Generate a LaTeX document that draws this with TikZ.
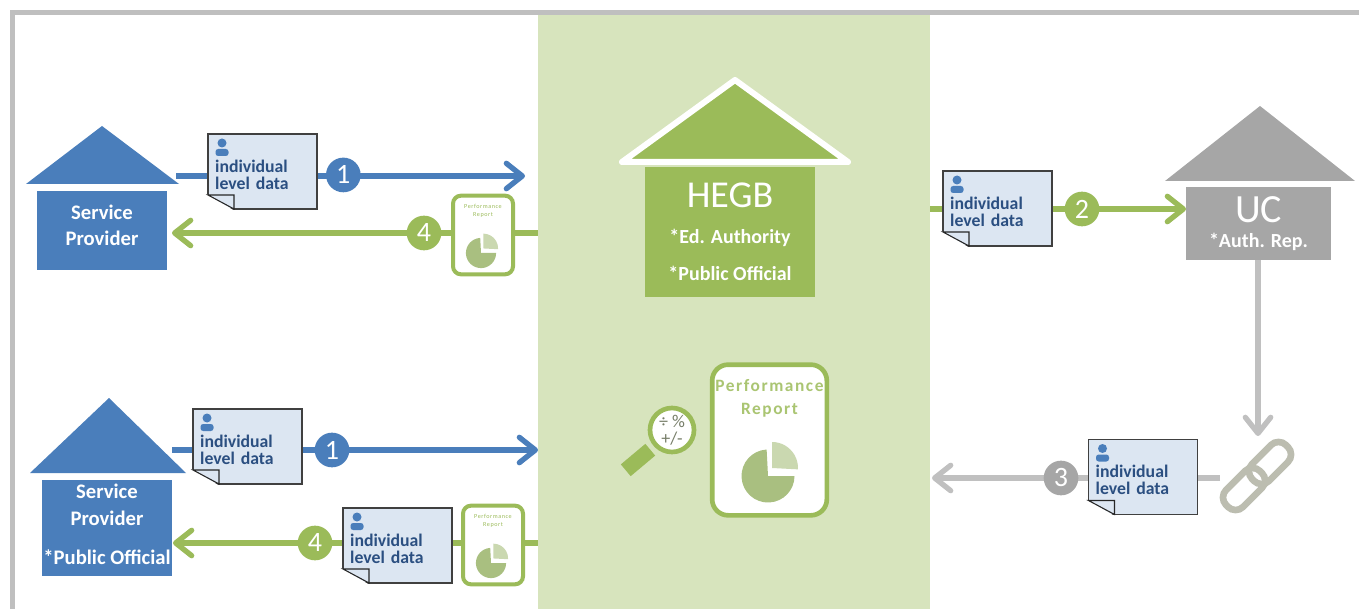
\documentclass[tikz,border=0pt]{standalone}
\usepackage{fontspec}
\setmainfont{Carlito}
\newfontfamily\reportfont[LetterSpace=9]{Carlito}
\usetikzlibrary{positioning}
\usetikzlibrary{arrows.meta}
\usetikzlibrary{backgrounds}
\definecolor{panelGreen}{HTML}{D7E4BD}
\definecolor{flowGreen}{HTML}{9BBB59}
\definecolor{flowBlue}{HTML}{4A7EBB}
\definecolor{flowGrey}{HTML}{C0C0C0}
\definecolor{houseGrey}{HTML}{A6A6A6}
\definecolor{docBlue}{HTML}{DCE6F2}
\definecolor{docText}{HTML}{2B4F81}
\definecolor{pieDark}{HTML}{A9BF80}
\definecolor{pieLight}{HTML}{CAD8B0}
\definecolor{chainGrey}{HTML}{BCBDB0}
\tikzset{%
	% styles of the boxes
	houseBody/.style = {rectangle, inner sep=0pt, outer sep=0pt, text=white, align=center, font=\bfseries},
	docNote/.style = {rectangle, draw=black!75, line width=0.9pt, fill=docBlue, inner sep=0pt, outer sep=0pt,
		minimum width=81.75pt, minimum height=56.25pt, text width=71pt, align=left, text=docText,
		font=\fontsize{13.3pt}{12.75pt}\selectfont\bfseries},
	numBadge/.style = {circle, fill=#1, text=white, minimum size=26pt, inner sep=0pt, outer sep=0pt,
		font=\fontsize{21pt}{21pt}\selectfont},
	reportBox/.style = {rectangle, rounded corners=9pt, draw=flowGreen, line width=3pt, fill=white, inner sep=0pt, outer sep=0pt},
	smallTitle/.style = {inner sep=0pt, align=center, text=flowGreen, font=\fontsize{4.6pt}{6.5pt}\selectfont\reportfont},
	chainLink/.style = {rectangle, rounded corners=8pt, draw=chainGrey, line width=5pt, minimum width=36pt, minimum height=18pt,
		inner sep=0pt, outer sep=0pt, rotate=45},
	flow/.style = {line width=4pt, draw=#1, -{Straight Barb[length=12pt, width=19pt, line width=4pt, round]}},
	plainFlow/.style = {line width=4pt, draw=#1},
	% pie of a report, and the corner fold and person of a note
	pieChart/.pic = {
		\fill[pieDark] (0,0) -- (93:26.5) arc (93:360:26.5) -- cycle;
		\fill[pieLight] (4,8) -- ++(90:26) arc (90:-3:26) -- cycle;
	},
	docMarks/.pic = {
		\fill[white] (-1.5,-60) -- (-1.5,-76.5) -- (26,-76.5) -- cycle;
		\draw[black!85, line width=0.8pt] (0,-61) -- (26,-61) -- (26,-75) -- cycle;
		\fill[flowBlue] (14,-9) circle (4.5);
		\fill[flowBlue, rounded corners=2pt] (7.5,-22) -- (7.5,-15) -- (20.5,-15) -- (20.5,-22) -- cycle;
	}
}
\newcommand{\levelData}{\mbox{}\\individual\\level data\\[-14pt]\mbox{}}
\begin{document}
\begin{tikzpicture}[x=0.75pt, y=0.75pt]
	\useasboundingbox (0,0) rectangle (1359,-609);
	\draw[line width=3.75pt, color=black!25] (12.5,-609) -- (12.5,-13) -- (1359,-13);
	\node (panel) [rectangle, fill=panelGreen, inner sep=0pt, outer sep=0pt, minimum width=294pt, minimum height=445.5pt] at (734,-312) {};

	% first service provider
	\fill[flowBlue] (26,-184) -- (102,-126) -- (179,-184) -- cycle;
	\node (providerOne) [houseBody, fill=flowBlue, minimum width=97.5pt, minimum height=59.25pt, font=\fontsize{15.5pt}{19.5pt}\selectfont\bfseries] at (102,-230.5) {Service\\Provider\\[-12pt]\mbox{}};
	\node (docOne) [docNote] at (262.5,-171.5) {\levelData};
	\pic at (docOne.north west) {docMarks};
	\node (badgeOne) [numBadge=flowBlue, right=6.75pt of docOne, yshift=-2.6pt] {1};
	\coordinate (outOne) at (176,-176);
	\coordinate (inOne) at (525,-176);
	\node (smallReportOne) [reportBox, minimum width=45pt, minimum height=59pt, rounded corners=6pt] at (483,-235) {};
	\node (smallTitleOne) [smallTitle, below=6pt of smallReportOne.north] {Performance\\Report};
	\pic[scale=0.57] at (481,-253) {pieChart};
	\node (badgeFourTop) [numBadge=flowGreen] at (424,-233) {4};
	\coordinate (backOne) at (172,-233);

	% second service provider
	\fill[flowBlue] (30,-473) -- (109,-398) -- (186,-473) -- cycle;
	\node (providerTwo) [houseBody, fill=flowBlue, minimum width=97.5pt, minimum height=72pt, font=\fontsize{15.5pt}{20pt}\selectfont\bfseries] at (107,-528) {Service\\Provider\\[9.5pt]*Public Official\\[-15pt]\mbox{}};
	\node (docTwo) [docNote] at (247.5,-446.5) {\levelData};
	\pic at (docTwo.north west) {docMarks};
	\node (badgeOneLow) [numBadge=flowBlue] at (332,-450) {1};
	\coordinate (outTwo) at (172,-450);
	\coordinate (inTwo) at (538,-450);
	\node (smallReportTwo) [reportBox, minimum width=45pt, minimum height=59pt, rounded corners=6pt] at (493,-545) {};
	\node (smallTitleTwo) [smallTitle, below=6pt of smallReportTwo.north] {Performance\\Report};
	\pic[scale=0.57] at (491,-563) {pieChart};
	\node (docThree) [docNote] at (397.5,-545.5) {\levelData};
	\pic at (docThree.north west) {docMarks};
	\node (badgeFourLow) [numBadge=flowGreen] at (315,-543) {4};
	\coordinate (backTwo) at (173,-543);

	% HEGB
	\filldraw[fill=flowGreen, draw=white, line width=4.5pt, line join=round] (622,-162) -- (735,-80) -- (848,-162) -- cycle;
	\node (hegb) [houseBody, fill=flowGreen, minimum width=127.5pt, minimum height=97.5pt] at (730,-232) {{\fontsize{28.5pt}{28.5pt}\selectfont\mdseries HEGB}\\[15pt]{\fontsize{15pt}{15pt}\selectfont *Ed. Authority}\\[14pt]{\fontsize{15pt}{15pt}\selectfont *Public Official}};

	% report and magnifier
	\node (perfReport) [reportBox, line width=3.5pt, rounded corners=12pt, minimum width=86pt, minimum height=113pt] at (769.5,-440) {};
	\node (perfTitle) [inner sep=0pt, align=center, text=flowGreen!85!white, below=11pt of perfReport.north, font=\fontsize{13pt}{17.5pt}\selectfont\bfseries\reportfont] {Performance\\Report};
	\pic at (768,-476) {pieChart};
	\node (lens) [circle, draw=flowGreen, line width=3.5pt, fill=white, minimum size=33pt, inner sep=0pt, align=center, text=black!45!panelGreen, font=\fontsize{13.5pt}{13pt}\selectfont] at (672,-430) {÷ \%\\+/-};
	\node (lensHandle) [rectangle, fill=flowGreen, minimum width=24pt, minimum height=11.5pt, inner sep=0pt, rotate=40] at (638,-460) {};

	% UC side
	\fill[houseGrey] (1165,-181) -- (1260,-106) -- (1355,-181) -- cycle;
	\node (uc) [houseBody, fill=houseGrey, minimum width=108.75pt, minimum height=54.75pt, font=\normalfont] at (1258.5,-223.5) {{\fontsize{30pt}{30pt}\selectfont UC}\\[7pt]{\fontsize{15pt}{15pt}\selectfont\bfseries *Auth. Rep.}};
	\node (docFour) [docNote] at (997.5,-208.5) {\levelData};
	\pic at (docFour.north west) {docMarks};
	\node (badgeTwo) [numBadge=flowGreen] at (1082,-209) {2};
	\node (docFive) [docNote] at (1143,-477) {\levelData};
	\pic at (docFive.north west) {docMarks};
	\node (badgeThree) [numBadge=houseGrey] at (1061,-478) {3};
	\node (linkLow) [chainLink] at (1244,-489) {};
	\node (linkHigh) [chainLink] at (1270,-463) {};
	\coordinate (chainTop) at (1258,-436);
	\coordinate (chainWest) at (1220,-478);
	\coordinate (panelEast) at (932,-478);

	\begin{scope}[on background layer]
		\draw[flow=flowBlue] (outOne) -- (inOne);
		\draw[flow=flowGreen] (backOne -| panel.west) -- (backOne);
		\draw[flow=flowBlue] (outTwo) -- (inTwo);
		\draw[flow=flowGreen] (backTwo -| panel.west) -- (backTwo);
		\draw[flow=flowGreen] (badgeTwo -| panel.east) -- (uc.west |- badgeTwo);
		\draw[flow=flowGrey] (uc.south -| chainTop) -- (chainTop);
		\draw[flow=flowGrey] (chainWest) -- (panelEast);
		\draw[plainFlow=flowGreen, line width=2.5pt] (lens) -- (lensHandle);
	\end{scope}
\end{tikzpicture}
\end{document}
